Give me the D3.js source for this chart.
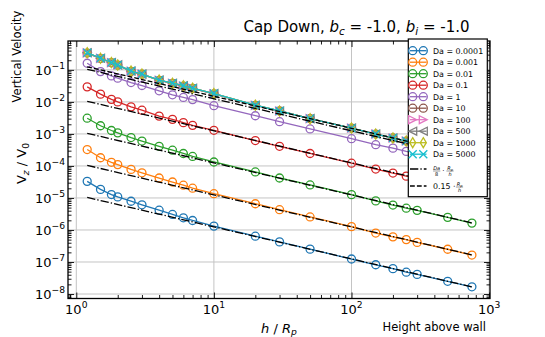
<!DOCTYPE html>
<html><head><meta charset="utf-8">
<script src="https://cdn.jsdelivr.net/npm/d3@7"></script>
<style>body{margin:0;background:#fff;} svg{display:block;font-family:"DejaVu Sans",sans-serif;}</style>
</head><body><svg id="c" width="545" height="337"></svg>
<script>
// ---------------- data ----------------
const heights = [1.2, 1.5, 1.8, 2, 2.5, 3, 4, 5, 6, 7, 10, 20, 30, 50, 100, 150, 200, 250, 300, 500, 750];
const daLabels = ["0.0001", "0.001", "0.01", "0.1", "1", "10", "100", "500", "1000", "5000"];
const vDa0_0001 = [3.3e-5, 1.85e-5, 1.28e-5, 1.08e-5, 7.9e-6, 6.1e-6, 4.15e-6, 3.05e-6, 2.4e-6, 1.98e-6, 1.32e-6, 6.4e-7, 4.25e-7, 2.52e-7, 1.24e-7, 8.2e-8, 6.2e-8, 4.8e-8, 4.1e-8, 2.5e-8, 1.68e-8];
const vDa0_001 = [3.25e-4, 1.8e-4, 1.3e-4, 1.1e-4, 7.8e-5, 6.1e-5, 4.2e-5, 3.15e-5, 2.5e-5, 2.02e-5, 1.36e-5, 6.6e-6, 4.3e-6, 2.55e-6, 1.27e-6, 8.0e-7, 6.1e-7, 5.0e-7, 4.1e-7, 2.5e-7, 1.65e-7];
const vDa0_01 = [3.1e-3, 1.8e-3, 1.28e-3, 1.08e-3, 7.7e-4, 6.0e-4, 4.1e-4, 3.1e-4, 2.45e-4, 1.98e-4, 1.33e-4, 6.5e-5, 4.2e-5, 2.55e-5, 1.27e-5, 8.1e-6, 6.0e-6, 4.8e-6, 4.1e-6, 2.48e-6, 1.64e-6];
const vDa0_1 = [2.95e-2, 1.75e-2, 1.2e-2, 1.0e-2, 7.0e-3, 5.5e-3, 3.6e-3, 2.85e-3, 2.25e-3, 1.85e-3, 1.3e-3, 6.2e-4, 4.1e-4, 2.45e-4, 1.22e-4, 8.0e-5, 6.0e-5, 4.8e-5, 4.1e-5, 2.5e-5, 1.66e-5];
const vDa1 = [0.161, 0.0885, 0.065, 0.0552, 0.0403, 0.0325, 0.0222, 0.0167, 0.0138, 0.0118, 0.0076, 0.0037, 2.41e-3, 1.43e-3, 7.1e-4, 4.6e-4, 3.6e-4, 2.85e-4, 2.4e-4, 1.43e-4, 9.5e-5];
const vDa10 = [0.335, 0.226, 0.167, 0.141, 0.09, 0.073, 0.047, 0.0378, 0.031, 0.0262, 0.0178, 0.0078, 0.0052, 0.003, 0.00151, 0.00099, 0.00075, 0.0006, 0.0005, 0.0003, 0.0002];
const vDa100 = [0.34, 0.229, 0.169, 0.142, 0.091, 0.0735, 0.0475, 0.038, 0.0315, 0.0265, 0.018, 0.0078, 0.0052, 0.003, 0.00152, 0.00099, 0.00075, 0.0006, 0.0005, 0.0003, 0.0002];
const vDa500 = [0.343, 0.23, 0.17, 0.143, 0.092, 0.074, 0.048, 0.0382, 0.0318, 0.0267, 0.0182, 0.0079, 0.0052, 0.003, 0.00152, 0.00099, 0.00075, 0.0006, 0.0005, 0.0003, 0.0002];
const vDa1000 = [0.345, 0.231, 0.17, 0.143, 0.092, 0.074, 0.048, 0.0383, 0.032, 0.0268, 0.0183, 0.0079, 0.0052, 0.003, 0.00152, 0.00099, 0.00075, 0.0006, 0.0005, 0.0003, 0.0002];
const vDa5000 = [0.345, 0.231, 0.17, 0.143, 0.092, 0.074, 0.048, 0.0383, 0.032, 0.0268, 0.0183, 0.0079, 0.0052, 0.003, 0.00152, 0.00099, 0.00075, 0.0006, 0.0005, 0.0003, 0.0002];
const refDa = [0.0001, 0.001, 0.01, 0.1, 1];        // Da/8 * Rp/h reference lines
const refConst = 0.15;                               // 0.15 * Rp/h reference line
const refHeights = [1.2, 750];
const xTicks = [1, 10, 100, 1000];
const xTickExp = ["0", "1", "2", "3"];
const yTicks = [1e-1, 1e-2, 1e-3, 1e-4, 1e-5, 1e-6, 1e-7, 1e-8];
const yTickExp = ["\u22121", "\u22122", "\u22123", "\u22124", "\u22125", "\u22126", "\u22127", "\u22128"];

const seriesValues = [vDa0_0001, vDa0_001, vDa0_01, vDa0_1, vDa1, vDa10, vDa100, vDa500, vDa1000, vDa5000];
const colors = ["#1f77b4", "#ff7f0e", "#2ca02c", "#d62728", "#9467bd", "#8c564b", "#e377c2", "#7f7f7f", "#bcbd22", "#17becf"];
const markers = ["o", "o", "o", "o", "o", "o", ">", "<", "d", "x"];

// ---------------- layout ----------------
const L = 68, R = 490, T = 41, B = 298.5;
const svg = d3.select("#c");
const x = d3.scaleLog().domain([Math.pow(10, -0.0603), Math.pow(10, 3.0065)]).range([L, R]);
const y = d3.scaleLog().domain([Math.pow(10, -8.14), Math.pow(10, -0.0977)]).range([B, T]);

svg.append("defs").append("clipPath").attr("id", "clip")
  .append("rect").attr("x", L).attr("y", T).attr("width", R - L).attr("height", B - T);

// grid
const grid = svg.append("g").attr("stroke", "#c4c4c4").attr("stroke-width", 1);
xTicks.forEach(v => grid.append("line").attr("x1", x(v)).attr("x2", x(v)).attr("y1", T).attr("y2", B));
yTicks.forEach(v => grid.append("line").attr("y1", y(v)).attr("y2", y(v)).attr("x1", L).attr("x2", R));

// minor tick values
const xd = x.domain(), yd = y.domain();
const xMinor = [], yMinor = [];
for (let e = -1; e <= 3; e++) for (let k = 2; k <= 9; k++) { const v = k * Math.pow(10, e); if (v > xd[0] && v < xd[1]) xMinor.push(v); }
for (let e = -9; e <= 0; e++) for (let k = 2; k <= 9; k++) { const v = k * Math.pow(10, e); if (v > yd[0] && v < yd[1]) yMinor.push(v); }

function axisG(axis, tx, ty) {
  const g = svg.append("g").attr("transform", `translate(${tx},${ty})`).call(axis);
  g.select(".domain").remove();
  g.selectAll("text").remove();
  g.selectAll("line").attr("stroke", "#000").attr("stroke-width", 0.9);
  return g;
}
axisG(d3.axisBottom(x).tickValues(xTicks).tickSize(-6).tickFormat(""), 0, B);
axisG(d3.axisBottom(x).tickValues(xMinor).tickSize(-3.5).tickFormat(""), 0, B);
axisG(d3.axisTop(x).tickValues(xTicks).tickSize(-6).tickFormat(""), 0, T);
axisG(d3.axisTop(x).tickValues(xMinor).tickSize(-3.5).tickFormat(""), 0, T);
axisG(d3.axisLeft(y).tickValues(yTicks).tickSize(-6).tickFormat(""), L, 0);
axisG(d3.axisLeft(y).tickValues(yMinor).tickSize(-3.5).tickFormat(""), L, 0);
axisG(d3.axisRight(y).tickValues(yTicks).tickSize(-6).tickFormat(""), R, 0);
axisG(d3.axisRight(y).tickValues(yMinor).tickSize(-3.5).tickFormat(""), R, 0);

// tick labels
xTicks.forEach((v, i) => {
  const t = svg.append("text").attr("x", x(v)).attr("y", 313.5).attr("text-anchor", "middle").attr("font-size", 13).attr("fill", "#000");
  t.append("tspan").text("10");
  t.append("tspan").attr("dy", -6).attr("font-size", 9.2).text(xTickExp[i]);
});
yTicks.forEach((v, i) => {
  const t = svg.append("text").attr("x", 65).attr("y", y(v) + 5).attr("text-anchor", "end").attr("font-size", 13).attr("fill", "#000");
  t.append("tspan").text("10");
  t.append("tspan").attr("dy", -6).attr("font-size", 9.2).text(yTickExp[i]);
});

// markers
function drawMarker(g, type, cx, cy, color) {
  const s = 4;
  if (type === "o") {
    g.append("circle").attr("cx", cx).attr("cy", cy).attr("r", s).attr("fill", "none").attr("stroke", color).attr("stroke-width", 1.3);
    return;
  }
  let d;
  if (type === ">") d = `M${s},0L${-s},${s}L${-s},${-s}Z`;
  else if (type === "<") d = `M${-s},0L${s},${s}L${s},${-s}Z`;
  else if (type === "d") d = `M0,${-s * 1.25}L${s * 0.75},0L0,${s * 1.25}L${-s * 0.75},0Z`;
  else d = `M${-s},${-s}L${s},${s}M${-s},${s}L${s},${-s}`;
  g.append("path").attr("d", d).attr("transform", `translate(${cx},${cy})`).attr("fill", "none").attr("stroke", color).attr("stroke-width", 1.3).attr("stroke-linejoin", "miter");
}

const plot = svg.append("g").attr("clip-path", "url(#clip)");
const line = d3.line().x(d => x(d[0])).y(d => y(d[1]));
seriesValues.forEach((vals, i) => {
  const pts = heights.map((h, j) => [h, vals[j]]);
  const g = plot.append("g");
  g.append("path").attr("d", line(pts)).attr("fill", "none").attr("stroke", colors[i]).attr("stroke-width", 1.3);
  pts.forEach(p => drawMarker(g, markers[i], x(p[0]), y(p[1]), colors[i]));
});

// reference lines
refDa.forEach(da => {
  const pts = refHeights.map(h => [h, da / 8 / h]);
  plot.append("path").attr("d", line(pts)).attr("fill", "none").attr("stroke", "#000").attr("stroke-width", 1.3)
    .attr("stroke-dasharray", "8.3,2.1,1.3,2.1");
});
plot.append("path").attr("d", line(refHeights.map(h => [h, refConst / h]))).attr("fill", "none")
  .attr("stroke", "#000").attr("stroke-width", 1.3).attr("stroke-dasharray", "4.8,2.1");

// frame
svg.append("rect").attr("x", L).attr("y", T).attr("width", R - L).attr("height", B - T)
  .attr("fill", "none").attr("stroke", "#000").attr("stroke-width", 1.3);

// legend
const lg = svg.append("g");
lg.append("rect").attr("x", 408.3).attr("y", 39).attr("width", 79).attr("height", 157.7)
  .attr("fill", "#fff").attr("stroke", "#000").attr("stroke-width", 1.2);
daLabels.forEach((lab, i) => {
  const yy = 50.7 + i * 11.5;
  lg.append("line").attr("x1", 410).attr("x2", 426.5).attr("y1", yy).attr("y2", yy).attr("stroke", colors[i]).attr("stroke-width", 1.3);
  drawMarker(lg, markers[i], 412.7, yy, colors[i]);
  drawMarker(lg, markers[i], 423.3, yy, colors[i]);
  lg.append("text").attr("x", 433).attr("y", yy + 3).attr("font-size", 7.9).attr("fill", "#000").text("Da = " + lab);
});
// dash-dot entry
lg.append("line").attr("x1", 410).attr("x2", 426.5).attr("y1", 169).attr("y2", 169).attr("stroke", "#000").attr("stroke-width", 1.3).attr("stroke-dasharray", "8.3,2.1,1.3,2.1");
function frac(g, cx, yBar, num, numSub, den, fs) {
  const t = g.append("text").attr("x", cx).attr("y", yBar - 1).attr("text-anchor", "middle").attr("font-size", fs).attr("font-style", "italic").attr("fill", "#000");
  t.append("tspan").text(num);
  if (numSub) t.append("tspan").attr("dy", 1).attr("font-size", fs * 0.7).text(numSub);
  g.append("line").attr("x1", cx - 3.6).attr("x2", cx + 3.6).attr("y1", yBar).attr("y2", yBar).attr("stroke", "#000").attr("stroke-width", 0.4);
  g.append("text").attr("x", cx).attr("y", yBar + fs * 0.95).attr("text-anchor", "middle").attr("font-size", fs).attr("font-style", (den === "8" ? "normal" : "italic")).attr("fill", "#000").text(den);
}
frac(lg, 436.7, 171, "Da", null, "8", 5);
lg.append("text").attr("x", 443.3).attr("y", 173).attr("text-anchor", "middle").attr("font-size", 7).text("\u00b7");
frac(lg, 450, 171, "R", "p", "h", 5);
// dashed entry
lg.append("line").attr("x1", 410).attr("x2", 426.5).attr("y1", 186).attr("y2", 186).attr("stroke", "#000").attr("stroke-width", 1.3).attr("stroke-dasharray", "4.8,2.1");
lg.append("text").attr("x", 433).attr("y", 189).attr("font-size", 7.9).attr("fill", "#000").text("0.15 \u00b7");
frac(lg, 459.5, 187, "R", "p", "h", 5);

// title
const title = svg.append("text").attr("x", 469.5).attr("y", 32.3).attr("text-anchor", "end").attr("font-size", 15).attr("fill", "#000");
title.append("tspan").text("Cap Down, ");
title.append("tspan").attr("font-style", "italic").text("b");
title.append("tspan").attr("font-style", "italic").attr("font-size", 10.5).attr("dy", 3).text("c");
title.append("tspan").attr("dy", -3).text(" = -1.0, ");
title.append("tspan").attr("font-style", "italic").text("b");
title.append("tspan").attr("font-style", "italic").attr("font-size", 10.5).attr("dy", 3).text("i");
title.append("tspan").attr("dy", -3).text(" = -1.0");

// axis labels
const xl = svg.append("text").attr("x", 279).attr("y", 332.5).attr("text-anchor", "middle").attr("font-size", 13).attr("fill", "#000");
xl.append("tspan").attr("font-style", "italic").text("h");
xl.append("tspan").text(" / ");
xl.append("tspan").attr("font-style", "italic").text("R");
xl.append("tspan").attr("font-style", "italic").attr("font-size", 9.2).attr("dy", 2.5).text("p");

const yl = svg.append("text").attr("transform", "translate(26,163.5) rotate(-90)").attr("text-anchor", "middle").attr("font-size", 13).attr("fill", "#000");
yl.append("tspan").text("V");
yl.append("tspan").attr("font-style", "italic").attr("font-size", 9.2).attr("dy", 2.5).text("z");
yl.append("tspan").attr("dy", -2.5).text(" / V");
yl.append("tspan").attr("font-size", 9.2).attr("dy", 2.5).text("0");

svg.append("text").attr("transform", "translate(20.5,56.5) rotate(-90)").attr("text-anchor", "middle").attr("font-size", 11.5).attr("fill", "#000").text("Vertical Velocity");
svg.append("text").attr("x", 486).attr("y", 330.5).attr("text-anchor", "end").attr("font-size", 11.5).attr("fill", "#000").text("Height above wall");
</script></body></html>
